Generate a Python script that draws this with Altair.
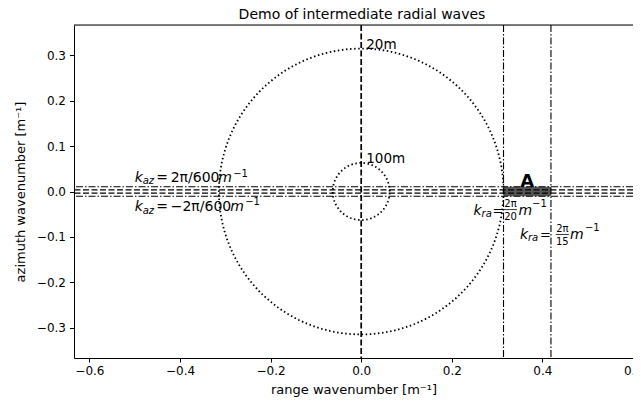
import math
import altair as alt
import pandas as pd

FONT = "DejaVu Sans"
PI2 = 2 * math.pi

# ---- data values ----
x_domain = [-0.634, 0.6]            # visible part of the range axis (right side cut off)
y_domain = [-0.366, 0.366]
x_ticks = [-0.6, -0.4, -0.2, 0.0, 0.2, 0.4, 0.6]
y_ticks = [-0.3, -0.2, -0.1, 0.0, 0.1, 0.2, 0.3]

circle_radii = [PI2 / 20, PI2 / 100]          # 20 m and 100 m wavelengths
circle_labels = ["20m", "100m"]
kaz_lines = [PI2 / 600, -PI2 / 600]           # azimuth cut-off lines
kra_lines = [PI2 / 20, PI2 / 15]              # range lines
center_h_lines = [0.0035, -0.0035]            # dashed pair around zero
center_v_lines = [0.0]
kaz_label_x = -0.5
box_label = "A"

W, H = 559, 333

xs = alt.Scale(domain=x_domain, nice=False, zero=False)
ys = alt.Scale(domain=y_domain, nice=False, zero=False)

x_axis = alt.Axis(values=x_ticks, format=".1f", title="range wavenumber [m⁻¹]", grid=False,
                  tickSize=4, tickColor="black", domainColor="black", labelColor="black",
                  titleColor="black", labelFont=FONT, titleFont=FONT, labelFontSize=12,
                  titleFontSize=13, titleFontWeight="normal", labelFlush=False,
                  labelOverlap=False, labelPadding=3, titlePadding=7)
y_axis = alt.Axis(values=y_ticks, format=".1f", title="azimuth wavenumber [m⁻¹]", grid=False,
                  tickSize=4.5, tickColor="black", domainColor="black", labelColor="black",
                  titleColor="black", labelFont=FONT, titleFont=FONT, labelFontSize=12,
                  titleFontSize=13, titleFontWeight="normal", labelFlush=False,
                  labelOverlap=False, labelPadding=4, titlePadding=9)

X = alt.X("x:Q", scale=xs, axis=x_axis)
Y = alt.Y("y:Q", scale=ys, axis=y_axis)

layers = []

# gray box "A"
box_df = pd.DataFrame({"x": [kra_lines[0]], "x2": [kra_lines[1]],
                       "y": [kaz_lines[1]], "y2": [kaz_lines[0]]})
layers.append(alt.Chart(box_df).mark_rect(color="#3a3a3a", opacity=0.85).encode(
    x=X, x2="x2:Q", y=Y, y2="y2:Q"))

# dotted circles
for r in circle_radii:
    layers.append(
        alt.Chart(alt.sequence(0, 362, 2, as_="deg"))
        .transform_calculate(x=f"{r}*cos(datum.deg*PI/180)", y=f"{r}*sin(datum.deg*PI/180)")
        .mark_line(color="black", strokeWidth=1.8, strokeDash=[1.5, 2.6], strokeCap="butt")
        .encode(x=X, y=Y, order=alt.Order("deg:Q"))
    )

# horizontal dash-dot lines
layers.append(alt.Chart(pd.DataFrame({"y": kaz_lines})).mark_rule(
    color="black", strokeWidth=1.1, strokeDash=[7, 2, 1.5, 2]).encode(y=Y))
# horizontal dashed lines around zero
layers.append(alt.Chart(pd.DataFrame({"y": center_h_lines})).mark_rule(
    color="black", strokeWidth=1.3, strokeDash=[6, 2.5]).encode(y=Y))
# vertical dashed line at zero
layers.append(alt.Chart(pd.DataFrame({"x": center_v_lines})).mark_rule(
    color="black", strokeWidth=1.7, strokeDash=[6, 2.5]).encode(x=X))
# vertical dash-dot lines
layers.append(alt.Chart(pd.DataFrame({"x": kra_lines})).mark_rule(
    color="black", strokeWidth=1.1, strokeDash=[7, 2, 1.5, 2]).encode(x=X))

# top frame line
layers.append(alt.Chart(pd.DataFrame({"y": [y_domain[1]]})).mark_rule(
    color="black", strokeWidth=1).encode(y=Y))


def piece(ax, ay, s, dx, dy, size, style="normal", weight="normal", align="left"):
    df = pd.DataFrame({"x": [ax], "y": [ay], "t": [s]})
    return alt.Chart(df).mark_text(
        align=align, baseline="alphabetic", dx=dx, dy=dy, fontSize=size,
        fontStyle=style, fontWeight=weight, font=FONT, color="black"
    ).encode(x=X, y=Y, text="t:N")


def frac_bar(ax, ay, dx1, dx2, dy):
    df = pd.DataFrame({"x": [ax], "y": [ay]})
    return alt.Chart(df).mark_rule(
        color="black", strokeWidth=0.8, xOffset=dx1, x2Offset=dx2, yOffset=dy, y2Offset=dy
    ).encode(x=X, x2="x:Q", y=Y, y2="y:Q")


# circle labels
for r, lab in zip(circle_radii, circle_labels):
    layers.append(piece(0.0, r, lab, 5, 0.5, 13.5))

# box label A
layers.append(piece((kra_lines[0] + kra_lines[1]) / 2, kaz_lines[0], box_label, 0, 0, 18,
                    weight="bold", align="center"))

# k_az = 2pi/600 m^-1
ax, ay = kaz_label_x, kaz_lines[0]
layers += [piece(ax, ay, "k", 0, -4.6, 14, "italic"),
           piece(ax, ay, "az", 8, -2.4, 10, "italic"),
           piece(ax, ay, "=", 21.5, -4.6, 14),
           piece(ax, ay, "2π/600", 36, -4.6, 14),
           piece(ax, ay, "m", 83.5, -4.6, 14, "italic"),
           piece(ax, ay, "−1", 98.5, -10.2, 10)]
# k_az = -2pi/600 m^-1
ax, ay = kaz_label_x, kaz_lines[1]
layers += [piece(ax, ay, "k", 0, 15.2, 14, "italic"),
           piece(ax, ay, "az", 8, 17.4, 10, "italic"),
           piece(ax, ay, "=", 21.5, 15.2, 14),
           piece(ax, ay, "−2π/600", 36, 15.2, 14),
           piece(ax, ay, "m", 95.5, 15.2, 14, "italic"),
           piece(ax, ay, "−1", 110.5, 8.5, 10)]
# k_ra = 2pi/20 m^-1
ax, ay = kra_lines[0], kaz_lines[1]
layers += [piece(ax, ay, "k", -30, 18.8, 14, "italic"),
           piece(ax, ay, "ra", -22, 20.5, 10, "italic"),
           piece(ax, ay, "=", -11, 18.8, 13),
           piece(ax, ay, "2π", 7, 10.8, 10, align="center"),
           piece(ax, ay, "20", 7, 23.3, 10, align="center"),
           frac_bar(ax, ay, 0.5, 13.5, 13.3),
           piece(ax, ay, "m", 15, 18.8, 14, "italic"),
           piece(ax, ay, "−1", 28.5, 10.8, 10)]
# k_ra = 2pi/15 m^-1
ax, ay = kra_lines[1], kaz_lines[1]
layers += [piece(ax, ay, "k", -31, 42.8, 14, "italic"),
           piece(ax, ay, "ra", -23, 44.5, 10, "italic"),
           piece(ax, ay, "=", -11, 42.8, 13),
           piece(ax, ay, "2π", 11.4, 36, 10, align="center"),
           piece(ax, ay, "15", 11.4, 48.5, 10, align="center"),
           frac_bar(ax, ay, 4.9, 17.9, 38.2),
           piece(ax, ay, "m", 19, 42.8, 14, "italic"),
           piece(ax, ay, "−1", 34, 35.2, 10)]

chart = alt.layer(*layers).properties(
    width=W, height=H,
    title=alt.TitleParams("Demo of intermediate radial waves", font=FONT, fontSize=14,
                          fontWeight="normal", color="black", anchor="middle",
                          frame="group", dx=8.5, offset=2.5),
    autosize=alt.AutoSizeParams(type="none"),
    padding={"left": 66, "top": 17, "right": 0, "bottom": 42},
).configure_view(stroke=None).configure(background="white")

chart.save("out.html", embed_options={"renderer": "svg", "actions": False})
